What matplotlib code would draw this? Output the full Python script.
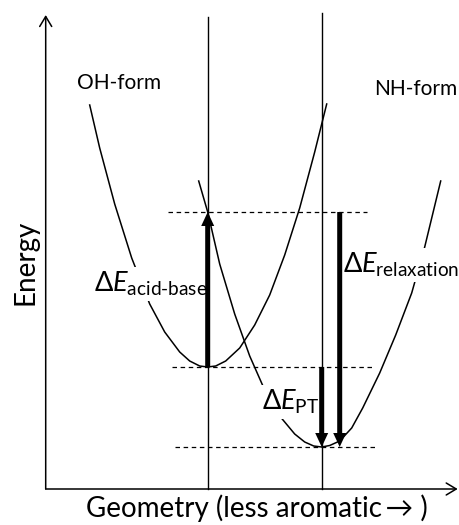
import matplotlib.pyplot as plt

plt.rcParams['font.family'] = ['Lato', 'DejaVu Sans']
plt.rcParams['mathtext.fontset'] = 'custom'
plt.rcParams['mathtext.rm'] = 'Lato'
plt.rcParams['mathtext.it'] = 'Lato:italic'
plt.rcParams['mathtext.fallback'] = 'stixsans'

# Potential energy curves (geometry, energy) in arbitrary units
oh_geom = [4.4, 5.4, 6.9, 8.6, 10.4, 11.9, 13.4, 14.4, 15.4, 16.2, 17.0, 18.0,
           19.4, 20.9, 22.4, 23.9, 25.4, 26.9, 28.1]
oh_energy = [38.4, 34.1, 28.5, 23.1, 18.5, 15.7, 13.7, 12.8, 12.3, 12.2, 12.3, 12.8,
             14.1, 16.4, 19.4, 23.4, 28.1, 33.7, 38.5]

nh_geom = [15.3, 16.2, 17.4, 18.9, 20.4, 21.9, 23.4, 24.9, 25.9, 26.8, 27.6, 28.4,
           29.4, 30.6, 31.7, 33.4, 35.0, 36.6, 37.9, 39.5]
nh_energy = [30.8, 27.7, 22.5, 17.5, 13.3, 9.9, 7.3, 5.5, 4.7, 4.3, 4.2, 4.35,
             4.8, 6.1, 8.1, 11.6, 15.4, 19.6, 24.2, 30.8]

# Energy levels and the geometries they are measured at
level_vertical = 27.7   # OH geometry, NH surface (vertical excitation)
level_oh_min = 12.2
level_nh_min = 4.2
geom_oh_min = 16.2
geom_nh_min = 27.6
geom_relax = 29.4

level_spans = [(12.2, 32.1), (12.6, 32.7), (12.9, 33.1)]
levels = [level_vertical, level_oh_min, level_nh_min]

fig = plt.figure(figsize=(4.59, 5.25), dpi=100)
ax = fig.add_axes([0, 0, 1, 1])
ax.set_xlim(-4.57, 41.33)
ax.set_ylim(-3.6, 48.9)
ax.axis('off')

# axes with open arrow heads
axis_arrow = dict(arrowstyle='->,head_length=0.45,head_width=0.27', lw=1.1,
                  color='k', shrinkA=0, shrinkB=0, mutation_scale=16)
ax.annotate('', xy=(0, 47.4), xytext=(0, 0), arrowprops=axis_arrow, zorder=5)
ax.annotate('', xy=(41.2, 0), xytext=(0, 0), arrowprops=axis_arrow, zorder=5)

# vertical guides at the two minima
ax.plot([geom_oh_min, geom_oh_min], [0, 47.2], color='k', lw=1.0, zorder=4)
ax.plot([geom_nh_min, geom_nh_min], [0, 47.6], color='k', lw=1.0, zorder=4)

for lvl, (x0, x1) in zip(levels, level_spans):
    ax.plot([x0, x1], [lvl, lvl], color='k', lw=0.9, ls=(0, (3.6, 2.9)), zorder=4)

ax.plot(oh_geom, oh_energy, color='k', lw=1.1, zorder=2)
ax.plot(nh_geom, nh_energy, color='k', lw=1.1, zorder=2)

arrow_kw = dict(width=0.5, head_width=1.3, head_length=1.4,
                length_includes_head=True, fc='k', ec='none', zorder=6)
ax.arrow(geom_oh_min, level_oh_min, 0, level_vertical - level_oh_min, **arrow_kw)
ax.arrow(geom_nh_min, level_oh_min, 0, level_nh_min - level_oh_min, **arrow_kw)
ax.arrow(geom_relax, level_vertical, 0, level_nh_min - level_vertical, **arrow_kw)

box = dict(facecolor='white', edgecolor='none', pad=2)
ax.text(3.1, 40.6, 'OH-form', fontsize=15, ha='left', va='center')
ax.text(32.8, 40.0, 'NH-form', fontsize=15, ha='left', va='center')
ax.text(4.8, 19.7, r'$\Delta E_{\mathrm{acid\text{-}base}}$', fontsize=19.5,
        ha='left', va='baseline', bbox=box, zorder=3)
ax.text(29.75, 21.6, r'$\Delta E_{\mathrm{relaxation}}$', fontsize=19.5,
        ha='left', va='baseline', bbox=box, zorder=3)
ax.text(21.6, 7.9, r'$\Delta E_{\mathrm{PT}}$', fontsize=19.5,
        ha='left', va='baseline', bbox=box, zorder=3)

ax.text(-2.0, 22.7, 'Energy', fontsize=20, rotation=90, ha='center', va='center')
ax.text(21.1, -2.85, 'Geometry (less aromatic\u2009\u2192 )', fontsize=20,
        ha='center', va='baseline')

fig.savefig('out.png', dpi=100)
